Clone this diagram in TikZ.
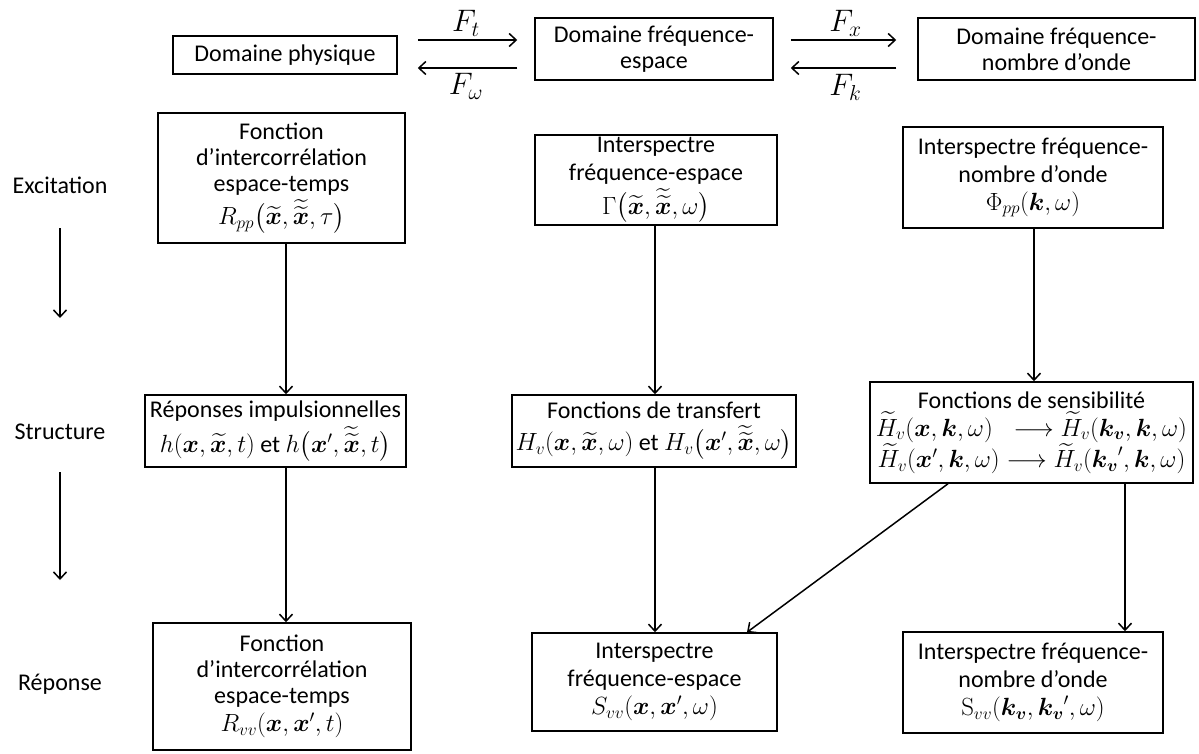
\documentclass[tikz,border=0pt]{standalone}
\usepackage[no-math]{fontspec}
\setmainfont{Carlito}
\usepackage{amsmath,bm}
\usetikzlibrary{arrows.meta}
\usetikzlibrary{calc}

\begin{document}
\begin{tikzpicture}[x=1pt,y=-1pt,line width=1.5pt,
	>={Straight Barb[length=7pt,width=13pt]},
	boite/.style={draw,align=center,inner sep=2pt,font=\fontsize{24}{28}\selectfont},
	etiq/.style={font=\fontsize{24}{28}\selectfont},
	flab/.style={font=\fontsize{24}{26}\selectfont,inner sep=1pt}]
	\useasboundingbox (0,0) rectangle (1199,754);
	\def\tx{\widetilde{\bm x}}   % x tilde
	\def\ttx{\widetilde{\widetilde{\bm x}}}
	\def\Ht{\widetilde{H}_v}
	\def\grand#1{\scalebox{1.25}{#1}}

	% domaines
	\node[boite,minimum width=224pt,minimum height=38pt] (phys) at (285,55) {Domaine physique};
	\node[boite,minimum width=238pt,minimum height=62pt,font=\fontsize{24}{26}\selectfont] (fe) at (654,49) {Domaine fréquence-\\espace};
	\node[boite,minimum width=277pt,minimum height=62pt,font=\fontsize{24}{26}\selectfont] (fk) at (1056.5,49) {Domaine fréquence-\\nombre d’onde};

	\draw[->,shorten <=20pt,shorten >=17pt] ([yshift=15pt]phys.east) -- ([yshift=15pt]phys.east -| fe.west)
		node[flab,midway,above=2pt] (Ft) {\grand{$F_t$}};
	\draw[->,shorten <=17pt,shorten >=20pt] ([yshift=-13pt]phys.east -| fe.west) -- ([yshift=-13pt]phys.east)
		node[flab,midway,below=4pt] (Fw) {\grand{$F_\omega$}};
	\draw[->,shorten <=17pt,shorten >=21pt] ([yshift=9pt]fe.east) -- ([yshift=9pt]fk.west)
		node[flab,midway,above=2pt] (Fx) {\grand{$F_x$}};
	\draw[->,shorten <=21pt,shorten >=17pt] ([yshift=-19pt]fk.west) -- ([yshift=-19pt]fe.east)
		node[flab,midway,below=5pt] (Fk) {\grand{$F_k$}};

	% lignes
	\node[etiq] (exc) at (60,185) {Excitation};
	\node[etiq] (str) at (60,432) {Structure};
	\node[etiq] (rep) at (60,684) {Réponse};
	\coordinate (e1) at (60,228);
	\coordinate (e2) at (60,318);
	\coordinate (s1) at (60,472);
	\coordinate (s2) at (60,580);
	\draw[->] (e1) -- (e2);
	\draw[->] (s1) -- (s2);

	% excitation
	\node[boite,minimum width=247pt,minimum height=130pt,font=\fontsize{24}{26}\selectfont] (A1) at (281.5,178)
		{Fonction\\d’intercorrélation\\espace-temps\\[3pt]$R_{pp}\bigl(\tx,\ttx,\tau\bigr)$};
	\node[boite,minimum width=242pt,minimum height=90pt] (B1) at (656,180)
		{Interspectre\\fréquence-espace\\[3pt]$\Gamma\bigl(\tx,\ttx,\omega\bigr)$};
	\node[boite,minimum width=260pt,minimum height=101pt] (C1) at (1033,177.5)
		{Interspectre fréquence-\\nombre d’onde\\$\Phi_{pp}(\bm k,\omega)$};

	% structure
	\node[boite,minimum width=261pt,minimum height=72pt] (A2) at (275.5,431)
		{Réponses impulsionnelles\\[4pt]$h(\bm x,\tx,t)$ et $h\bigl(\bm x',\ttx,t\bigr)$};
	\node[boite,minimum width=284pt,minimum height=72pt] (B2) at (654,431)
		{Fonctions de transfert\\[4pt]$H_v(\bm x,\tx,\omega)$ et $H_v\bigl(\bm x',\ttx,\omega\bigr)$};
	\node[boite,minimum width=323pt,minimum height=101pt] (C2) at (1031.5,432.5)
		{Fonctions de sensibilité\\
		$\Ht(\bm x,\bm k,\omega)\;\;\longrightarrow\Ht(\bm{k_v},\bm k,\omega)$\\
		$\Ht(\bm x',\bm k,\omega)\longrightarrow\Ht({\bm{k_v}}',\bm k,\omega)$};

	% reponse
	\node[boite,minimum width=258pt,minimum height=127pt,font=\fontsize{24}{26}\selectfont] (A3) at (282,686.5)
		{Fonction\\d’intercorrélation\\espace-temps\\[2pt]$R_{vv}(\bm x,\bm x',t)$};
	\node[boite,minimum width=245pt,minimum height=98pt] (B3) at (654.5,682)
		{Interspectre\\fréquence-espace\\$S_{vv}(\bm x,\bm x',\omega)$};
	\node[boite,minimum width=260pt,minimum height=101pt] (C3) at (1033,682.5)
		{Interspectre fréquence-\\nombre d’onde\\$\mathrm{S}_{vv}(\bm{k_v},{\bm{k_v}}',\omega)$};

	% fleches
	\draw[->] ([xshift=4.5pt]A1.south) -- ([xshift=4.5pt]A1.south |- A2.north);
	\draw[->] ([xshift=4.5pt]A1.south |- A2.south) -- ([xshift=4.5pt]A1.south |- A3.north);
	\draw[->] ([xshift=-1pt]B1.south) -- ([xshift=-1pt]B1.south |- B2.north);
	\draw[->] ([xshift=1pt]B2.south) -- ([xshift=1pt]B2.south |- B3.north);
	\draw[->] ([xshift=1pt]C1.south) -- ([xshift=1pt]C1.south |- C2.north);
	\draw[->] ([xshift=93.5pt]C2.south) -- ([xshift=93.5pt]C2.south |- C3.north);
	\draw[->] ([xshift=-83.5pt]C2.south) -- ([xshift=92.5pt]B3.north);
\end{tikzpicture}
\end{document}
